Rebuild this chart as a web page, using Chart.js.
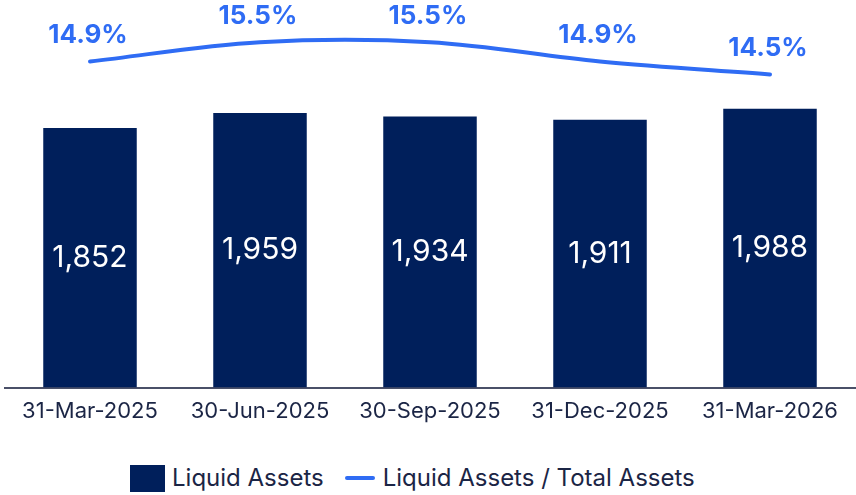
<!DOCTYPE html>
<html>
<head>
<meta charset="utf-8">
<script src="https://cdn.jsdelivr.net/npm/chart.js@4.4.1/dist/chart.umd.min.js"></script>
<style>
  html, body { margin: 0; padding: 0; background: #fff; }
  #wrap { position: relative; width: 856px; height: 495px; font-family: Inter, "Noto Sans", sans-serif; }
  #box { position: absolute; left: 0; top: 0; width: 856px; height: 436px; }
  #legend { position: absolute; left: 130px; top: 464px; display: flex; align-items: center; font-size: 24px; line-height: 28px; color: #1b2545; white-space: nowrap; }
  .sq { display: inline-block; width: 35px; height: 27px; background: #001f5b; margin-right: 7px; }
  .ln { display: inline-block; width: 30px; height: 4px; border-radius: 2px; background: #2f6cf4; margin: 0 8px 0 21px; }
</style>
</head>
<body>
<div id="wrap">
  <div id="box"><canvas id="chart"></canvas></div>
  <div id="legend">
    <span class="sq"></span><span>Liquid Assets</span>
    <span class="ln"></span><span>Liquid Assets / Total Assets</span>
  </div>
</div>
<script>
// categories and values
const quarters = ['31-Mar-2025', '30-Jun-2025', '30-Sep-2025', '31-Dec-2025', '31-Mar-2026'];
const liquidAssets = [1852, 1959, 1934, 1911, 1988];
const liquidRatio = [14.9, 15.5, 15.5, 14.9, 14.5];

const NAVY = '#001f5b';
const BLUE = '#2f6cf4';

// draws the value labels: white inside bars, blue above the line
const valueLabels = {
  id: 'valueLabels',
  afterDatasetsDraw(chart) {
    const ctx = chart.ctx;
    ctx.save();
    ctx.textAlign = 'center';
    ctx.textBaseline = 'middle';

    const bars = chart.getDatasetMeta(0).data;
    ctx.fillStyle = '#ffffff';
    ctx.font = '400 30px Inter, "Noto Sans", sans-serif';
    bars.forEach((bar, i) => {
      const mid = (bar.y + bar.base) / 2;
      ctx.fillText(liquidAssets[i].toLocaleString('en-US'), bar.x, mid);
    });

    const pts = chart.getDatasetMeta(1).data;
    ctx.fillStyle = BLUE;
    ctx.font = '700 26px Inter, "Noto Sans", sans-serif';
    pts.forEach((p, i) => {
      ctx.fillText(liquidRatio[i].toFixed(1) + '%', p.x - 2, p.y - 26);
    });
    ctx.restore();
  }
};

new Chart(document.getElementById('chart'), {
  type: 'bar',
  data: {
    labels: quarters,
    datasets: [
      {
        type: 'bar',
        label: 'Liquid Assets',
        data: liquidAssets,
        backgroundColor: NAVY,
        barPercentage: 0.55,
        categoryPercentage: 1,
        yAxisID: 'y',
        order: 2
      },
      {
        type: 'line',
        label: 'Liquid Assets / Total Assets',
        data: liquidRatio,
        borderColor: BLUE,
        borderWidth: 4,
        borderCapStyle: 'round',
        pointRadius: 0,
        tension: 0.35,
        yAxisID: 'y2',
        order: 1
      }
    ]
  },
  options: {
    responsive: true,
    maintainAspectRatio: false,
    animation: false,
    layout: { padding: { top: 9, left: 5, right: 1, bottom: 0 } },
    plugins: {
      legend: { display: false },
      tooltip: { enabled: false }
    },
    scales: {
      x: {
        grid: { display: false, drawTicks: false },
        border: { display: true, color: '#4a5068', width: 2 },
        ticks: {
          color: '#1b2545',
          padding: 11,
          maxRotation: 0,
          font: { family: 'Inter', size: 22 }
        }
      },
      y: { display: false, min: 0, max: 2700 },
      y2: { display: false, min: 4.78, max: 16.53 }
    }
  },
  plugins: [valueLabels]
});
</script>
</body>
</html>
